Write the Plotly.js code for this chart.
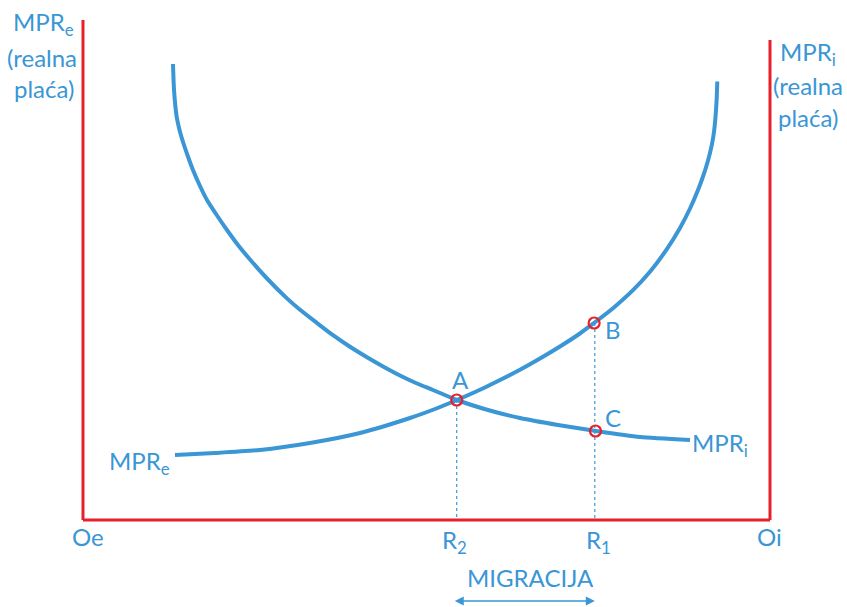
<!DOCTYPE html>
<html>
<head>
<meta charset="utf-8">
<script src="https://cdn.plot.ly/plotly-3.0.1.min.js"></script>
<style>
  html, body { margin: 0; padding: 0; background: #fff; }
  #chart { width: 847px; height: 607px; }
</style>
</head>
<body>
<div id="chart"></div>
<script>
// MPRe curve (rising, emigration country)
const mprE_x = [13.39, 19.21, 25.76, 33.04, 40.32, 47.60, 51.24, 54.44, 57.79, 60.70, 63.61, 66.52, 69.43, 72.34, 74.38,
  77.15, 80.06, 82.53, 85.01, 86.90, 88.36, 89.52, 90.25, 90.98, 91.51, 91.85, 92.07, 92.23, 92.33];
const mprE_y = [13.0, 13.4, 14.0, 15.4, 17.4, 20.4, 22.2, 24.0, 26.04, 28.0, 30.06, 32.3, 34.7, 37.3, 39.4,
  42.36, 45.96, 49.64, 54.22, 58.4, 62.3, 66.0, 68.7, 71.9, 74.86, 77.62, 80.62, 83.92, 87.7];

// MPRi curve (falling, immigration country)
const mprI_x = [13.10, 13.25, 13.64, 14.05, 14.56, 15.28, 16.01, 17.03, 18.05, 19.51, 20.96, 22.56, 24.31, 26.93, 29.69,
  31.59, 34.06, 36.39, 38.86, 41.34, 43.81, 46.14, 48.62, 50.95, 54.44, 58.95, 63.61, 69.14, 74.67, 81.08, 88.36];
const mprI_y = [91.2, 86.0, 80.6, 78.0, 75.6, 72.7, 70.0, 66.8, 64.0, 60.9, 58.0, 55.0, 52.1, 48.1, 44.32,
  42.04, 39.4, 36.96, 34.64, 32.54, 30.6, 28.9, 27.3, 26.0, 24.0, 22.0, 20.4, 19.0, 17.8, 16.6, 16.0];

// marked points A, B, C
const pointNames = ['A', 'B', 'C'];
const pointX = [54.4, 74.4, 74.6];
const pointY = [24.0, 39.4, 17.8];

// R2, R1 on the horizontal axis
const rNames = ['R<sub>2</sub>', 'R<sub>1</sub>'];
const rX = [54.4, 74.5];
const rY = [24.0, 39.4];

const blue = '#3a96d5';
const red = '#e8202a';
const font = {family: 'Lato, "Open Sans", sans-serif', size: 24, color: blue};

const traces = [
  {x: mprE_x, y: mprE_y, mode: 'lines', line: {color: blue, width: 4, shape: 'spline', smoothing: 0.6}, hoverinfo: 'skip'},
  {x: mprI_x, y: mprI_y, mode: 'lines', line: {color: blue, width: 4, shape: 'spline', smoothing: 0.6}, hoverinfo: 'skip'}
];

// dotted drop lines from A and B to the axis
rX.forEach((x, i) => {
  traces.push({x: [x, x], y: [rY[i], 0], mode: 'lines',
    line: {color: blue, width: 1.2, dash: 'dot'}, hoverinfo: 'skip'});
});

traces.push({x: pointX, y: pointY, mode: 'markers',
  marker: {symbol: 'circle-open', size: 11, color: red, line: {width: 2.2, color: red}}, hoverinfo: 'skip'});

const ann = [];
function label(text, x, y, xanchor) {
  ann.push({text: text, x: x, y: y, xref: 'x', yref: 'y', showarrow: false,
    xanchor: xanchor || 'center', yanchor: 'middle', font: font});
}

// axis titles
label('MPR<sub>e</sub>', -5.7, 99.4);
label('(realna', -5.9, 92.6);
label('plaća)', -5.7, 86.4);
label('MPR<sub>i</sub>', 105.6, 93.4);
label('(realna', 105.6, 87.0);
label('plaća)', 105.6, 80.6);

// origins
label('Oe', 0.7, -3.2);
label('Oi', 100, -3.2);

// R labels
label(rNames[0], 54.1, -4.2);
label(rNames[1], 75.0, -4.2);

// point labels
label(pointNames[0], 54.9, 28.2);
label(pointNames[1], 77.2, 38.2);
label(pointNames[2], 77.2, 20.6);

// curve labels
label('MPR<sub>e</sub>', 13.0, 11.6, 'right');
label('MPR<sub>i</sub>', 88.4, 15.2, 'left');

// migration
label('MIGRACIJA', 65.2, -11.4);
ann.push({x: rX[1], y: -16.2, ax: rX[0] - 0.5, ay: -16.2, xref: 'x', yref: 'y', axref: 'x', ayref: 'y',
  text: '', showarrow: true, arrowhead: 2, arrowside: 'end+start', arrowsize: 1.2, arrowwidth: 1.5, arrowcolor: blue});

const layout = {
  width: 847, height: 607,
  margin: {l: 0, r: 0, t: 0, b: 0},
  paper_bgcolor: '#fff', plot_bgcolor: '#fff',
  showlegend: false,
  xaxis: {range: [-12.08, 111.21], visible: false, fixedrange: true},
  yaxis: {range: [-17.4, 104], visible: false, fixedrange: true},
  shapes: [
    {type: 'line', xref: 'x', yref: 'y', x0: 0, y0: 100, x1: 0, y1: 0, line: {color: red, width: 3}},
    {type: 'line', xref: 'x', yref: 'y', x0: 0, y0: 0, x1: 100, y1: 0, line: {color: red, width: 3}},
    {type: 'line', xref: 'x', yref: 'y', x0: 100, y0: 0, x1: 100, y1: 96, line: {color: red, width: 3}}
  ],
  annotations: ann
};

Plotly.newPlot('chart', traces, layout, {displayModeBar: false, staticPlot: true});
</script>
</body>
</html>
